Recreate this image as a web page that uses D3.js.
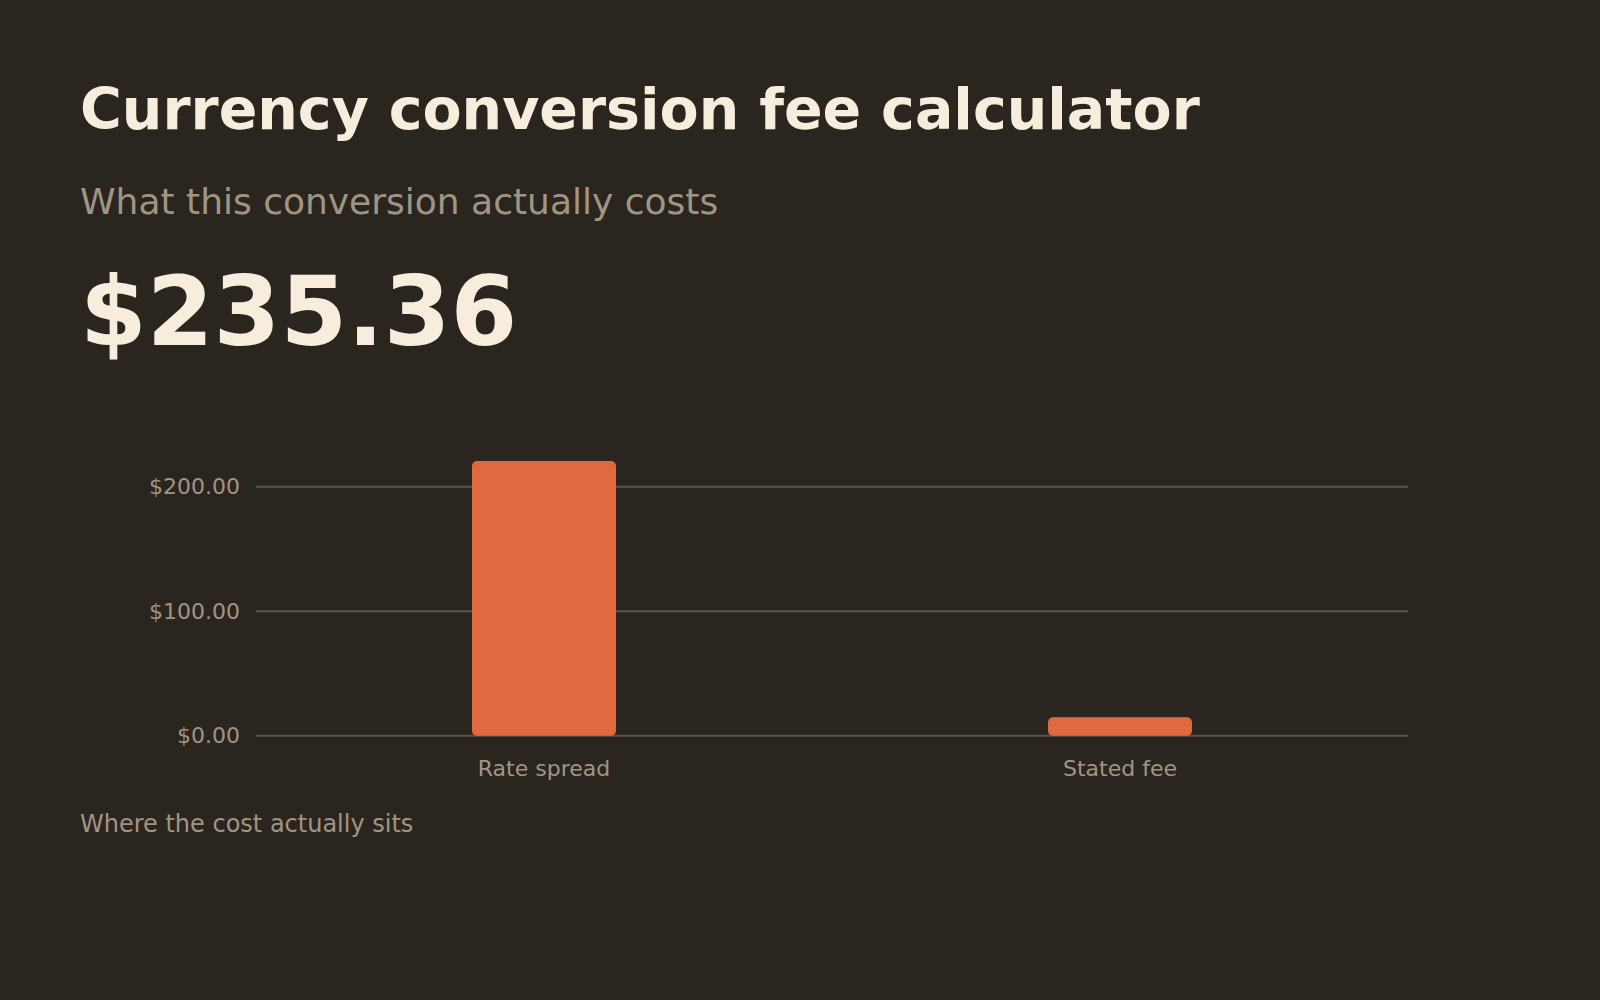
<!DOCTYPE html>
<html>
<head>
<meta charset="utf-8">
<script src="https://cdn.jsdelivr.net/npm/d3@7"></script>
<style>
  html, body { margin: 0; padding: 0; background: #2b251f; }
  svg { display: block; }
  text { font-family: "DejaVu Sans", sans-serif; }
</style>
</head>
<body>
<svg id="chart" width="1600" height="1000"></svg>
<script>
const titleText = "Currency conversion fee calculator";
const subtitleText = "What this conversion actually costs";
const totalText = "$235.36";
const footerText = "Where the cost actually sits";
const categories = ["Rate spread", "Stated fee"];
const values = [220.60, 14.76];
const tickValues = [0, 100, 200];

const svg = d3.select("#chart");
const W = 1600, H = 1000;
svg.append("rect").attr("width", W).attr("height", H).attr("fill", "#2b251f");

svg.append("text").attr("x", 80).attr("y", 129)
  .attr("font-size", 57).attr("font-weight", "bold").attr("fill", "#f6eddd")
  .text(titleText);
svg.append("text").attr("x", 80).attr("y", 214)
  .attr("font-size", 36).attr("fill", "#a09583")
  .text(subtitleText);
svg.append("text").attr("x", 80).attr("y", 345)
  .attr("font-size", 96).attr("font-weight", "bold").attr("fill", "#f6eddd")
  .text(totalText);

const x0 = 256, x1 = 1408, yBase = 735.7, pxPerUnit = 1.245;
const x = d3.scaleBand().domain(categories).range([x0, x1]).paddingInner(0.75).paddingOuter(0.375);
const y = d3.scaleLinear().domain([0, 240]).range([yBase, yBase - 240 * pxPerUnit]);

const g = svg.append("g");
g.selectAll("line.grid").data(tickValues).join("line")
  .attr("x1", x0).attr("x2", x1)
  .attr("y1", d => y(d)).attr("y2", d => y(d))
  .attr("stroke", "#5b544a").attr("stroke-width", 2);

g.selectAll("text.ytick").data(tickValues).join("text")
  .attr("x", 240).attr("y", d => y(d)).attr("dy", "0.35em")
  .attr("text-anchor", "end").attr("font-size", 22).attr("fill", "#a09583")
  .text(d => "$" + d3.format(",.2f")(d));

g.selectAll("rect.bar").data(values).join("rect")
  .attr("x", (d, i) => x(categories[i]))
  .attr("width", x.bandwidth())
  .attr("y", d => y(d))
  .attr("height", d => y(0) - y(d))
  .attr("rx", 5).attr("ry", 5)
  .attr("fill", "#e0693f");

g.selectAll("text.xlab").data(categories).join("text")
  .attr("x", d => x(d) + x.bandwidth() / 2).attr("y", 776)
  .attr("text-anchor", "middle").attr("font-size", 22).attr("fill", "#a09583")
  .text(d => d);

svg.append("text").attr("x", 80).attr("y", 832)
  .attr("font-size", 24).attr("fill", "#a09583")
  .text(footerText);
</script>
</body>
</html>
